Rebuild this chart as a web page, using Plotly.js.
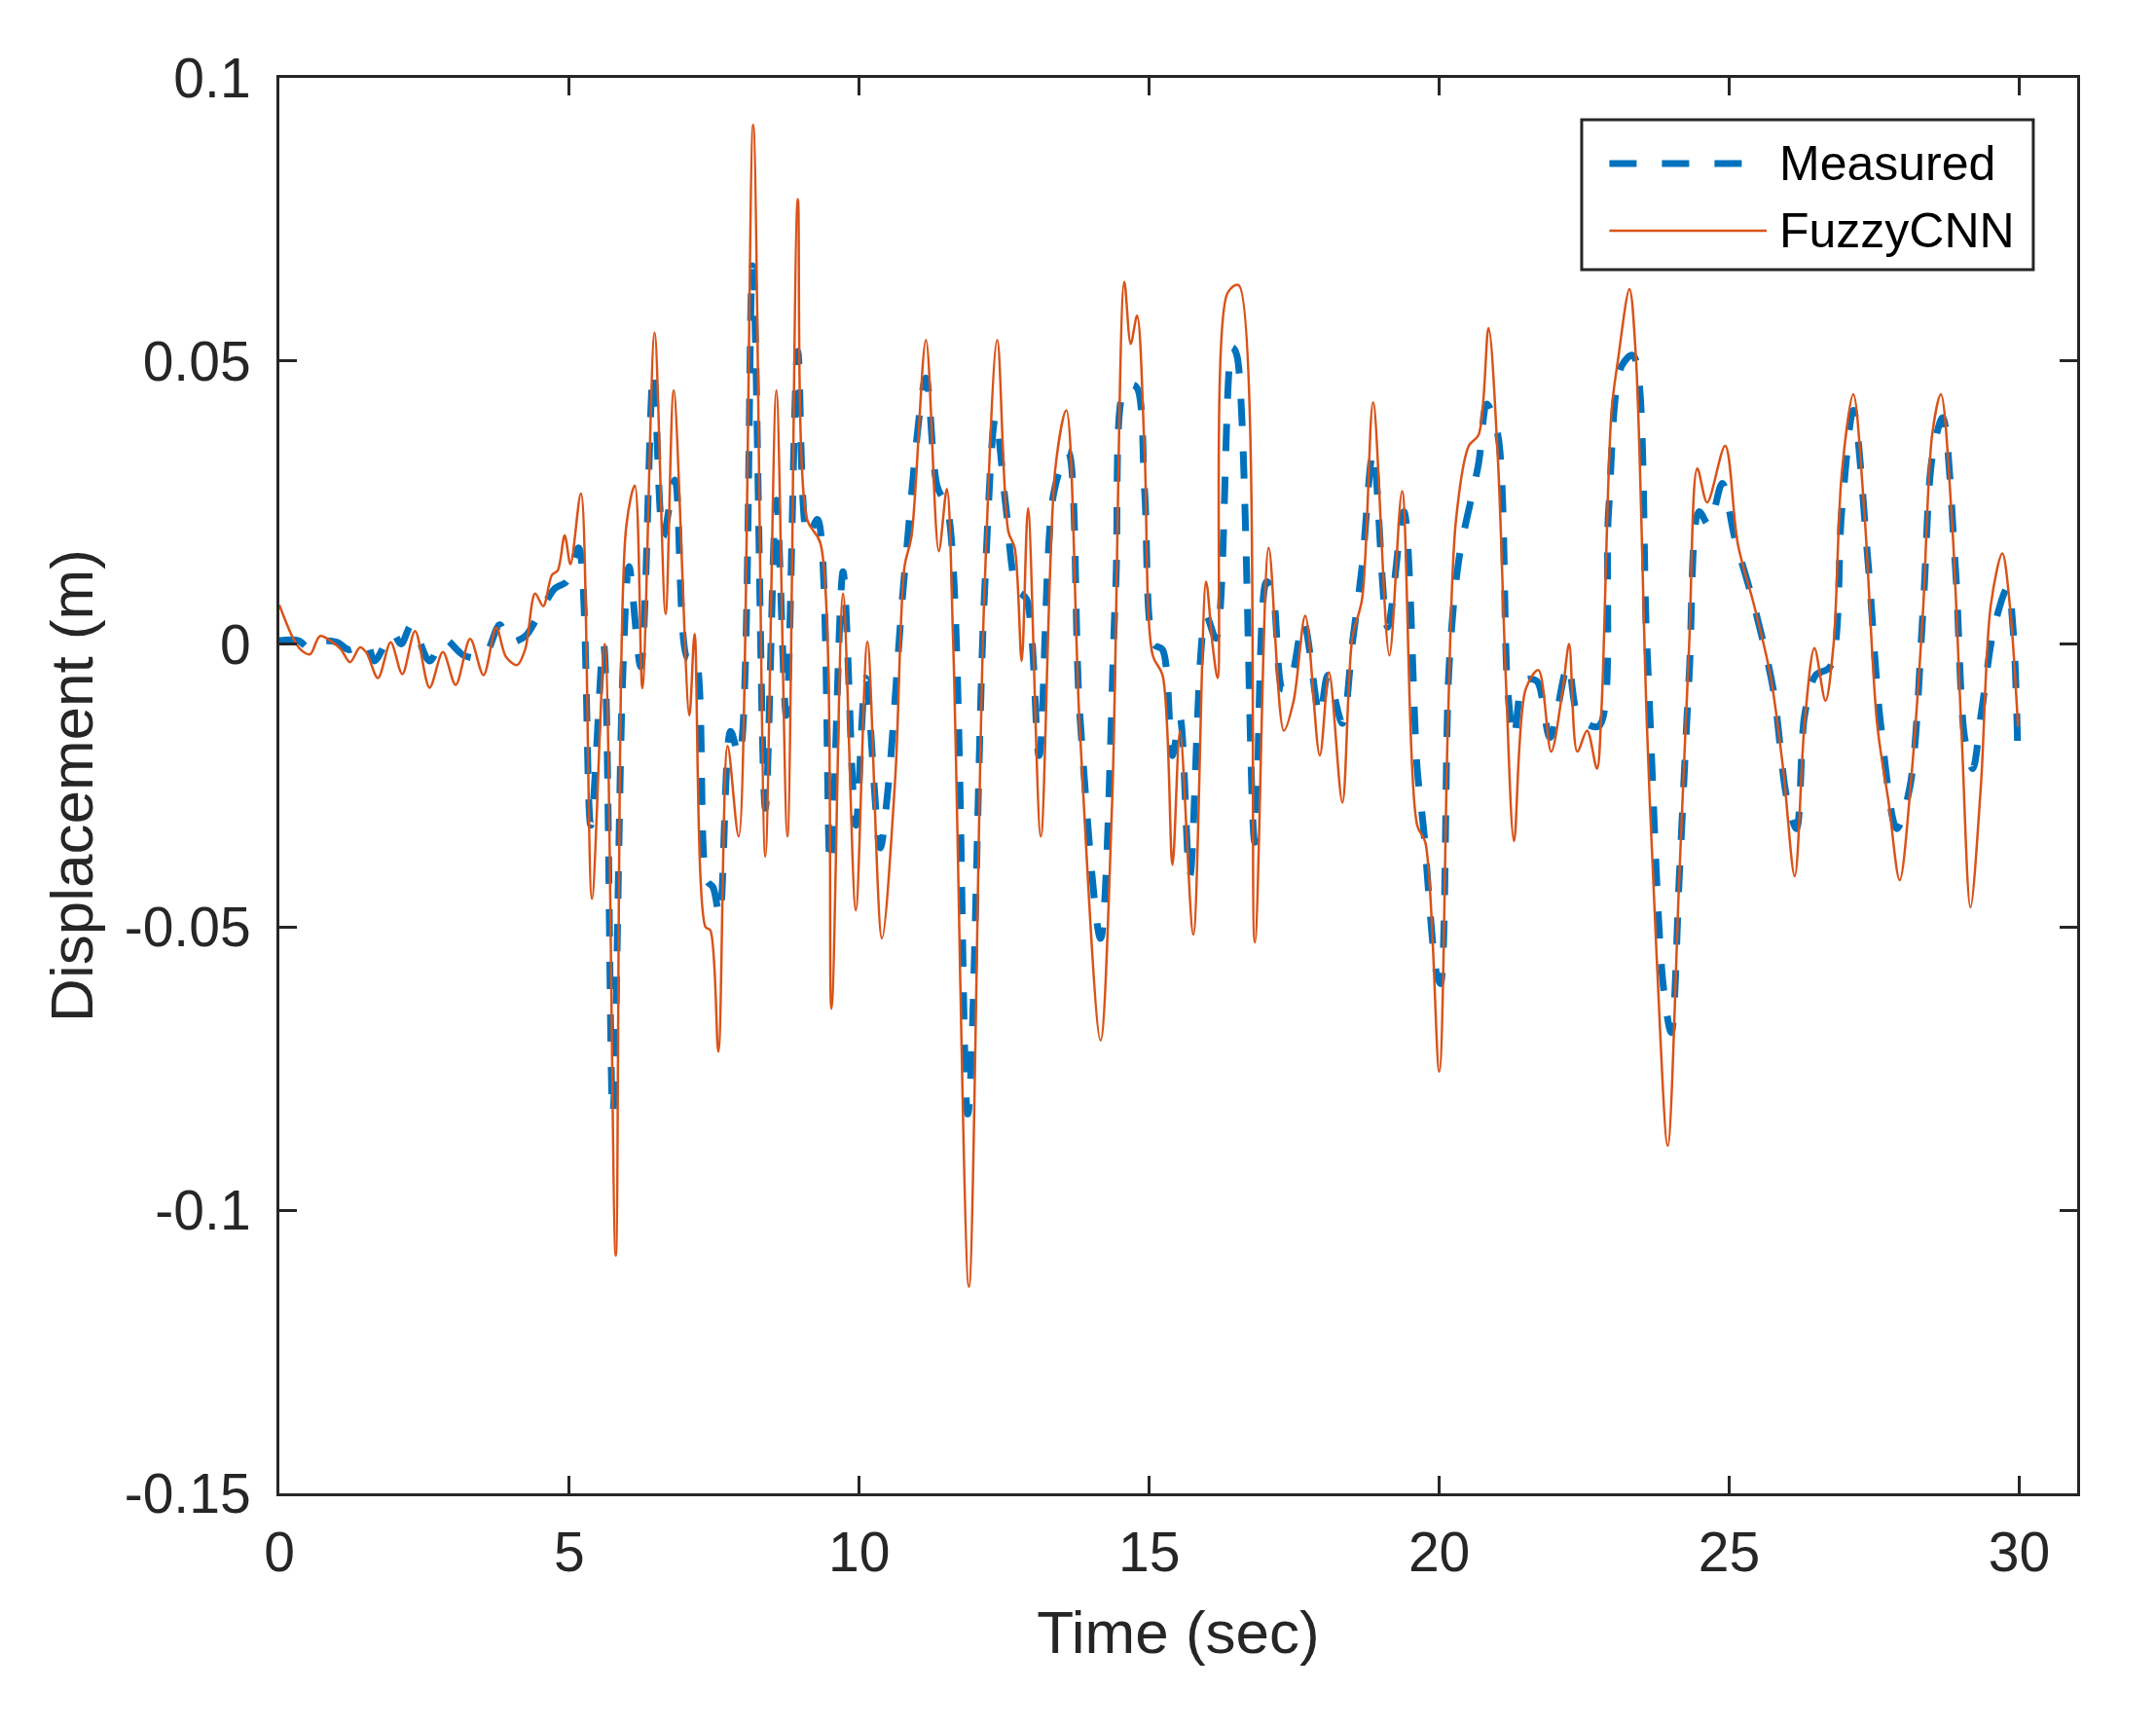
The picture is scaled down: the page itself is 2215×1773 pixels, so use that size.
<!DOCTYPE html>
<html>
<head>
<meta charset="utf-8">
<script src="https://cdn.plot.ly/plotly-3.0.1.min.js"></script>
<style>
  html, body { margin: 0; padding: 0; background: #ffffff; }
  #chart { width: 2215px; height: 1773px; }
</style>
</head>
<body>
<div id="chart"></div>
<script>
// ---- Data ----
const seriesNames = ["Measured", "FuzzyCNN"];

const timeMeasured = [
  0.00, 0.33, 0.53, 0.75, 1.00, 1.20, 1.50, 1.64, 1.95, 2.10, 2.28, 2.59, 2.84, 3.18, 3.52, 3.80, 3.96,
  4.24, 4.41, 4.75, 4.95, 5.16, 5.37, 5.59, 5.75, 5.92, 6.03, 6.23, 6.45, 6.62, 6.82, 7.04, 7.16, 7.37,
  7.48, 7.59, 7.78, 7.93, 8.16, 8.38, 8.57, 8.74, 8.94, 9.11, 9.28, 9.50, 9.72, 9.94, 10.11, 10.36,
  10.50, 10.78, 11.15, 11.34, 11.53, 11.87, 12.15, 12.35, 12.52, 12.72, 12.88, 13.10, 13.35, 13.60,
  13.80, 14.16, 14.42, 14.59, 14.77, 14.92, 15.08, 15.23, 15.40, 15.53, 15.70, 15.98, 16.15, 16.43,
  16.51, 16.82, 17.02, 17.12, 17.30, 17.45, 17.66, 17.94, 18.08, 18.33, 18.50, 18.67, 18.86, 19.11,
  19.39, 19.62, 19.73, 19.95, 20.02, 20.17, 20.34, 20.68, 20.82, 21.01, 21.18, 21.29, 21.46, 21.68,
  21.91, 22.22, 22.41, 22.75, 22.92, 23.14, 23.34, 23.58, 23.86, 24.00, 24.14, 24.31, 24.48, 24.65,
  24.88, 25.09, 25.43, 25.76, 25.99, 26.16, 26.30, 26.49, 26.74, 26.94, 27.14, 27.39, 27.61, 27.89,
  28.12, 28.34, 28.50, 28.68, 28.90, 29.06, 29.20, 29.35, 29.57, 29.80, 29.90, 29.98
];
const measured = [
  0.0006, 0.0006, -0.0009, 0.0005, 0.0003, -0.0010, 0.0003, -0.0030, 0.0020, 0.0000, 0.0034, -0.0030,
  0.0009, -0.0020, -0.0023, 0.0034, 0.0003, 0.0014, 0.0040, 0.0098, 0.0110, 0.0170, -0.0320, 0.0000,
  -0.0830, -0.0060, 0.0137, -0.0040, 0.0480, 0.0190, 0.0290, -0.0025, -0.0020, -0.0417, -0.0430,
  -0.0480, -0.0154, -0.0197, 0.0668, -0.0290, 0.0254, -0.0126, 0.0517, 0.0190, 0.0220, -0.0390,
  0.0128, -0.0320, -0.0060, -0.0360, -0.0250, 0.0125, 0.0470, 0.0280, 0.0234, -0.0830, 0.0068,
  0.0400, 0.0250, 0.0096, 0.0080, -0.0197, 0.0265, 0.0340, -0.0120, -0.0520, 0.0096, 0.0455, 0.0455,
  0.0270, 0.0000, -0.0010, -0.0197, -0.0130, -0.0410, 0.0050, 0.0010, 0.0524, 0.0510, -0.0350,
  0.0110, 0.0096, -0.0080, -0.0060, 0.0040, -0.0126, -0.0055, -0.0140, 0.0000, 0.0137, 0.0340,
  0.0030, 0.0234, -0.0220, -0.0326, -0.0580, -0.0600, -0.0040, 0.0150, 0.0320, 0.0424, 0.0370,
  -0.0080, -0.0165, -0.0065, -0.0065, -0.0165, -0.0037, -0.0130, -0.0145, 0.0234, 0.0490, 0.0510,
  0.0000, -0.0600, -0.0686, -0.0410, -0.0055, 0.0234, 0.0210, 0.0284, 0.0190, 0.0068, -0.0080,
  -0.0270, -0.0326, -0.0126, -0.0055, -0.0040, 0.0234, 0.0413, 0.0150, -0.0140, -0.0326, -0.0250,
  0.0055, 0.0329, 0.0400, 0.0137, -0.0165, -0.0220, -0.0120, 0.0030, 0.0100, 0.0020, -0.0210
];

const timeFuzzy = [
  0.00, 0.22, 0.36, 0.53, 0.70, 0.92, 1.06, 1.22, 1.39, 1.50, 1.70, 1.92, 2.12, 2.34, 2.59, 2.82, 3.04,
  3.29, 3.52, 3.74, 3.91, 4.10, 4.24, 4.41, 4.55, 4.70, 4.80, 4.92, 5.02, 5.20, 5.39, 5.61, 5.80, 5.98,
  6.13, 6.26, 6.47, 6.66, 6.80, 7.07, 7.16, 7.35, 7.43, 7.57, 7.73, 7.92, 8.17, 8.38, 8.57, 8.76, 8.94,
  9.10, 9.33, 9.52, 9.72, 9.94, 10.14, 10.39, 10.62, 10.78, 10.90, 11.15, 11.37, 11.51, 11.62, 11.89,
  12.15, 12.38, 12.57, 12.68, 12.80, 12.91, 13.13, 13.38, 13.57, 13.80, 14.16, 14.36, 14.57, 14.68,
  14.79, 14.92, 15.06, 15.23, 15.40, 15.53, 15.76, 15.98, 16.09, 16.18, 16.35, 16.54, 16.82, 17.06,
  17.32, 17.49, 17.69, 17.94, 18.10, 18.33, 18.50, 18.67, 18.86, 19.14, 19.36, 19.62, 19.76, 20.00,
  20.15, 20.29, 20.51, 20.68, 20.85, 21.01, 21.15, 21.29, 21.49, 21.71, 21.93, 22.13, 22.24, 22.38,
  22.55, 22.72, 22.80, 22.97, 23.08, 23.28, 23.39, 23.58, 23.75, 23.94, 24.14, 24.31, 24.45, 24.62,
  24.93, 25.15, 25.43, 25.71, 25.93, 26.13, 26.30, 26.47, 26.66, 26.80, 26.94, 27.14, 27.33, 27.55,
  27.75, 27.94, 28.14, 28.34, 28.50, 28.65, 28.84, 29.01, 29.16, 29.34, 29.51, 29.71, 29.84, 29.98
];
const fuzzy = [
  0.0069, 0.0014, -0.0009, -0.0018, 0.0014, 0.0003, -0.0009, -0.0032, -0.0006, -0.0015, -0.0060,
  0.0003, -0.0053, 0.0023, -0.0077, -0.0014, -0.0072, 0.0009, -0.0055, 0.0029, -0.0023, -0.0037,
  -0.0009, 0.0089, 0.0067, 0.0122, 0.0130, 0.0192, 0.0141, 0.0266, -0.0450, 0.0000, -0.1080, 0.0206,
  0.0280, -0.0078, 0.0550, 0.0053, 0.0448, -0.0126, 0.0018, -0.0500, -0.0505, -0.0720, -0.0180,
  -0.0340, 0.0917, -0.0375, 0.0448, -0.0340, 0.0786, 0.0220, 0.0178, -0.0644, 0.0089, -0.0470,
  0.0004, -0.0520, -0.0236, 0.0137, 0.0190, 0.0537, 0.0164, 0.0274, -0.0002, -0.1135, 0.0068,
  0.0537, 0.0199, 0.0170, -0.0030, 0.0240, -0.0340, 0.0310, 0.0413, -0.0144, -0.0700, -0.0278,
  0.0640, 0.0530, 0.0580, 0.0340, -0.0020, -0.0055, -0.0390, -0.0153, -0.0513, 0.0110, 0.0000,
  -0.0060, 0.0620, 0.0634, -0.0527, 0.0170, -0.0153, -0.0100, 0.0050, -0.0197, -0.0050, -0.0280,
  0.0010, 0.0080, 0.0427, -0.0020, 0.0270, -0.0320, -0.0350, -0.0755, -0.0140, 0.0220, 0.0350,
  0.0370, 0.0558, 0.0330, -0.0065, -0.0348, -0.0080, -0.0046, -0.0190, -0.0080, 0.0000, -0.0190,
  -0.0153, -0.0220, -0.0110, 0.0410, 0.0500, 0.0627, 0.0510, -0.0140, -0.0554, -0.0886, -0.0410,
  0.0000, 0.0310, 0.0250, 0.0350, 0.0176, 0.0068, -0.0055, -0.0220, -0.0410, -0.0140, -0.0007,
  -0.0100, 0.0000, 0.0300, 0.0441, 0.0234, -0.0140, -0.0280, -0.0417, -0.0236, 0.0055, 0.0370,
  0.0441, 0.0220, -0.0165, -0.0465, -0.0250, 0.0068, 0.0160, 0.0068, -0.0146
];

const xTickValues = [0, 5, 10, 15, 20, 25, 30];
const xTickLabels = ["0", "5", "10", "15", "20", "25", "30"];
const yTickValues = [-0.15, -0.1, -0.05, 0, 0.05, 0.1];
const yTickLabels = ["-0.15", "-0.1", "-0.05", "0", "0.05", "0.1"];

// ---- Styling ----
const FONT = '"Liberation Sans", Arial, Helvetica, sans-serif';
const INK = '#262626';
const BLUE = '#0072BD';
const ORANGE = '#D95319';

const traces = [
  {
    x: timeMeasured, y: measured, name: seriesNames[0], type: 'scatter', mode: 'lines',
    line: { color: BLUE, width: 7, dash: '28px,26px', shape: 'spline', smoothing: 0.9 },
    showlegend: false, hoverinfo: 'skip'
  },
  {
    x: timeFuzzy, y: fuzzy, name: seriesNames[1], type: 'scatter', mode: 'lines',
    line: { color: ORANGE, width: 2.5, shape: 'spline', smoothing: 0.9 },
    showlegend: false, hoverinfo: 'skip'
  }
];

const axisCommon = {
  showline: true, linecolor: INK, linewidth: 3, mirror: 'ticks',
  ticks: 'inside', ticklen: 18, tickwidth: 3, tickcolor: INK,
  showgrid: false, zeroline: false, automargin: false,
  tickfont: { family: FONT, size: 57, color: INK }
};

// custom legend box (paper coordinates)
const lg = { x0: 0.7244, x1: 0.9756, y0: 0.8645, y1: 0.9704,
             sx0: 0.7398, sx1: 0.8273, r1: 0.9395, r2: 0.8920, tx: 0.8330 };

const layout = {
  width: 2215, height: 1773,
  margin: { l: 287, r: 81, t: 80, b: 239, pad: 0 },
  paper_bgcolor: '#ffffff', plot_bgcolor: '#ffffff',
  showlegend: false,
  font: { family: FONT, color: INK },
  xaxis: Object.assign({}, axisCommon, {
    range: [0, 31], tickmode: 'array', tickvals: xTickValues, ticktext: xTickLabels,
    ticklabelstandoff: 9,
    title: { text: 'Time (sec)', font: { family: FONT, size: 62, color: INK }, standoff: 30 }
  }),
  yaxis: Object.assign({}, axisCommon, {
    range: [-0.15, 0.1], tickmode: 'array', tickvals: yTickValues, ticktext: yTickLabels,
    ticklabelstandoff: 15,
    title: { text: 'Displacement (m)', font: { family: FONT, size: 62, color: INK }, standoff: 12 }
  }),
  shapes: [
    { type: 'rect', xref: 'paper', yref: 'paper', x0: lg.x0, x1: lg.x1, y0: lg.y0, y1: lg.y1,
      line: { color: INK, width: 3 }, fillcolor: '#ffffff', layer: 'above' },
    { type: 'line', xref: 'paper', yref: 'paper', x0: lg.sx0, x1: lg.sx1, y0: lg.r1, y1: lg.r1,
      line: { color: BLUE, width: 7, dash: '28px,26px' }, layer: 'above' },
    { type: 'line', xref: 'paper', yref: 'paper', x0: lg.sx0, x1: lg.sx1, y0: lg.r2, y1: lg.r2,
      line: { color: ORANGE, width: 2.5 }, layer: 'above' }
  ],
  annotations: [
    { xref: 'paper', yref: 'paper', x: lg.tx, y: lg.r1, xanchor: 'left', yanchor: 'middle',
      text: seriesNames[0], showarrow: false, font: { family: FONT, size: 50, color: '#000000' } },
    { xref: 'paper', yref: 'paper', x: lg.tx, y: lg.r2, xanchor: 'left', yanchor: 'middle',
      text: seriesNames[1], showarrow: false, font: { family: FONT, size: 50, color: '#000000' } }
  ]
};

Plotly.newPlot('chart', traces, layout, { staticPlot: true, displayModeBar: false });
</script>
</body>
</html>
